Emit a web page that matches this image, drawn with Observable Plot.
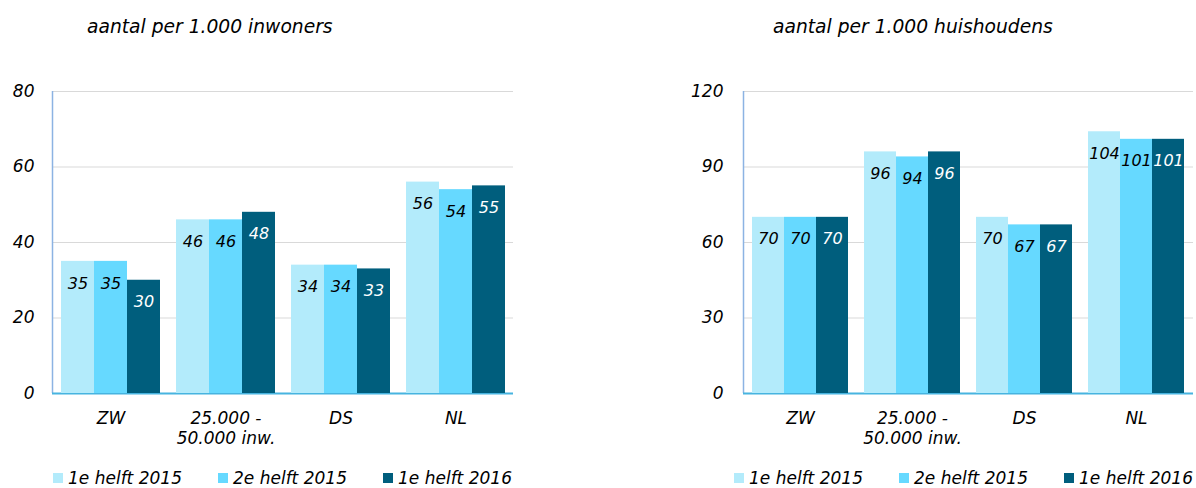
<!DOCTYPE html>
<html>
<head>
<meta charset="utf-8">
<script src="https://cdn.jsdelivr.net/npm/d3@7"></script>
<script src="https://cdn.jsdelivr.net/npm/@observablehq/plot@0.6"></script>
<style>
  html, body { margin: 0; padding: 0; background: #fff; }
  #root { position: relative; width: 1196px; height: 488px;
          font-family: "DejaVu Sans", Verdana, sans-serif; font-style: italic; color: #000; }
  .title { position: absolute; top: 15px; font-size: 18.7px; line-height: 24px; white-space: nowrap; }
  .layer { position: absolute; top: 70px; }
  .legend { position: absolute; top: 469px; display: flex; font-size: 17px; line-height: 18px; }
  .item { width: 165px; display: flex; align-items: center; white-space: nowrap; }
  .sw { width: 10px; height: 10px; margin-right: 5px; flex: none; }
</style>
</head>
<body>
<div id="root"></div>
<script>
// ---- data ----
const categories = ["ZW", "25.000 -\n50.000 inw.", "DS", "NL"];
const seriesNames = ["1e helft 2015", "2e helft 2015", "1e helft 2016"];
const seriesColors = ["#b3ebfb", "#66d9ff", "#005e7d"];

const inwonersH1_2015 = [35, 46, 34, 56];
const inwonersH2_2015 = [35, 46, 34, 54];
const inwonersH1_2016 = [30, 48, 33, 55];
const inwonersTicks = [0, 20, 40, 60, 80];

const huishoudensH1_2015 = [70, 96, 70, 104];
const huishoudensH2_2015 = [70, 94, 67, 101];
const huishoudensH1_2016 = [70, 96, 67, 101];
const huishoudensTicks = [0, 30, 60, 90, 120];

const titles = ["aantal per 1.000 inwoners", "aantal per 1.000 huishoudens"];

function toTable(seriesValues) {
  const rows = [];
  categories.forEach((cat, i) => {
    seriesNames.forEach((s, j) => rows.push({cat, series: s, value: seriesValues[j][i]}));
  });
  return rows;
}

const root = document.getElementById("root");
const H = 380, MT = 21, MB = 57;
const baseStyle = {background: "transparent", fontFamily: "DejaVu Sans, Verdana, sans-serif", fontStyle: "italic", fontSize: "17px", color: "#000", overflow: "visible"};

function panel({left, width, marginLeft, marginRight, ticks, values, fxPadding, tickPadding, title, titleLeft, legendLeft}) {
  const table = toTable(values);
  const yDomain = [ticks[0], ticks[ticks.length - 1]];

  // background layer: grid, axis lines, y tick labels
  const bg = Plot.plot({
    width, height: H, marginTop: MT, marginBottom: MB, marginLeft, marginRight,
    style: baseStyle,
    x: {domain: [0, 1], axis: null},
    y: {domain: yDomain, axis: null},
    marks: [
      Plot.gridY(ticks.slice(1), {stroke: "#d9d9d9", strokeOpacity: 1}),
      Plot.axisY(ticks, {tickSize: 0, tickPadding, fontSize: 17, label: null}),
      Plot.ruleX([0], {stroke: "#8cb3e3", strokeWidth: 1.5}),
      Plot.ruleY([0], {stroke: "#47b4e0", strokeWidth: 2})
    ]
  });

  // foreground layer: grouped bars, labels, category axis
  const fg = Plot.plot({
    width, height: H, marginTop: MT, marginBottom: MB, marginLeft, marginRight,
    style: baseStyle,
    fx: {domain: categories, paddingInner: fxPadding, paddingOuter: fxPadding / 2, label: null},
    x: {domain: seriesNames, padding: 0, axis: null},
    y: {domain: yDomain, axis: null},
    color: {domain: seriesNames, range: seriesColors},
    marks: [
      Plot.barY(table, {fx: "cat", x: "series", y: "value", fill: "series", insetLeft: 0, insetRight: 0}),
      Plot.text(table, {filter: d => d.series !== seriesNames[2], fx: "cat", x: "series", y: "value",
        text: d => String(d.value), dy: 22, fill: "#000", fontSize: 16}),
      Plot.text(table, {filter: d => d.series === seriesNames[2], fx: "cat", x: "series", y: "value",
        text: d => String(d.value), dy: 22, fill: "#fff", fontSize: 16}),
      Plot.axisFx({anchor: "bottom", tickSize: 0, tickPadding: 16, label: null, fontSize: 17, lineHeight: 1.2})
    ]
  });

  for (const svg of [bg, fg]) {
    const d = document.createElement("div");
    d.className = "layer";
    d.style.left = left + "px";
    d.appendChild(svg);
    root.appendChild(d);
  }

  const t = document.createElement("div");
  t.className = "title";
  t.style.left = titleLeft + "px";
  t.textContent = title;
  root.appendChild(t);

  const lg = document.createElement("div");
  lg.className = "legend";
  lg.style.left = legendLeft + "px";
  seriesNames.forEach((s, i) => {
    const it = document.createElement("div");
    it.className = "item";
    const sw = document.createElement("span");
    sw.className = "sw";
    sw.style.background = seriesColors[i];
    const tx = document.createElement("span");
    tx.textContent = s;
    it.appendChild(sw);
    it.appendChild(tx);
    lg.appendChild(it);
  });
  root.appendChild(lg);
}

panel({left: 0, width: 520, marginLeft: 52, marginRight: 7, ticks: inwonersTicks,
  values: [inwonersH1_2015, inwonersH2_2015, inwonersH1_2016], fxPadding: 0.14, tickPadding: 18,
  title: titles[0], titleLeft: 87, legendLeft: 53});

panel({left: 680, width: 516, marginLeft: 63, marginRight: 3, ticks: huishoudensTicks,
  values: [huishoudensH1_2015, huishoudensH2_2015, huishoudensH1_2016], fxPadding: 0.145, tickPadding: 20,
  title: titles[1], titleLeft: 773, legendLeft: 734});
</script>
</body>
</html>
